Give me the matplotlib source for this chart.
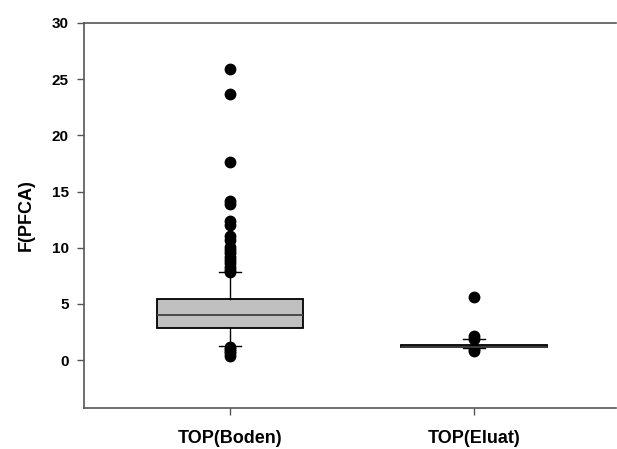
import matplotlib
matplotlib.use("Agg")
import matplotlib.pyplot as plt

plt.rcParams['font.family'] = ['Liberation Sans', 'DejaVu Sans']
plt.rcParams['font.weight'] = 'bold'

categories = ["TOP(Boden)", "TOP(Eluat)"]
medians = [4.0, 1.2]
q1 = [2.82, 1.13]
q3 = [5.4, 1.3]
whisker_low = [1.25, 1.04]
whisker_high = [7.86, 1.87]
outliers_boden = [25.9, 23.7, 17.6, 14.2, 13.9, 12.4, 12.0, 11.0, 10.7,
                  10.1, 9.8, 9.5, 9.2, 8.9, 8.6, 8.3, 8.0, 7.8,
                  1.2, 1.0, 0.8, 0.6, 0.4]
outliers_eluat = [5.64, 2.17, 1.9, 0.95, 0.83]
fliers = [outliers_boden, outliers_eluat]
yticks = [0, 5, 10, 15, 20, 25, 30]

stats = []
for i, c in enumerate(categories):
    stats.append(dict(label=c, med=medians[i], q1=q1[i], q3=q3[i],
                      whislo=whisker_low[i], whishi=whisker_high[i],
                      fliers=fliers[i]))

fig = plt.figure(figsize=(6.17, 4.49), dpi=100)
ax = fig.add_axes([84/617, 41/449, 532/617, 385/449])

ax.bxp(stats, positions=[1, 2], widths=0.6, patch_artist=True,
       capwidths=0.09,
       boxprops=dict(facecolor='#c0c0c0', edgecolor='black', linewidth=1.3),
       medianprops=dict(color='#404040', linewidth=1.3),
       whiskerprops=dict(color='black', linewidth=1.0),
       capprops=dict(color='black', linewidth=1.0),
       flierprops=dict(marker='o', markerfacecolor='black', markeredgecolor='black',
                       markersize=7.5, linestyle='none'))

ax.set_xlim(0.4016, 2.582)
ax.set_ylim(-4.27, 30)
ax.set_yticks(yticks)
ax.set_xticks([1, 2])
ax.set_xticklabels(categories, fontsize=13, fontweight='bold')
ax.tick_params(axis='y', labelsize=11, direction='out', length=5, width=1, color='#555555', pad=6)
ax.tick_params(axis='x', direction='out', length=5, width=1, color='#555555', pad=11)
for lab in ax.get_yticklabels():
    lab.set_fontweight('bold')
ax.set_ylabel("F(PFCA)", fontsize=13, fontweight='bold', labelpad=12)

for s in ['left', 'top', 'bottom']:
    ax.spines[s].set_color('#555555')
    ax.spines[s].set_linewidth(1.2)
ax.spines['right'].set_visible(False)

fig.savefig("out.png", dpi=100)
